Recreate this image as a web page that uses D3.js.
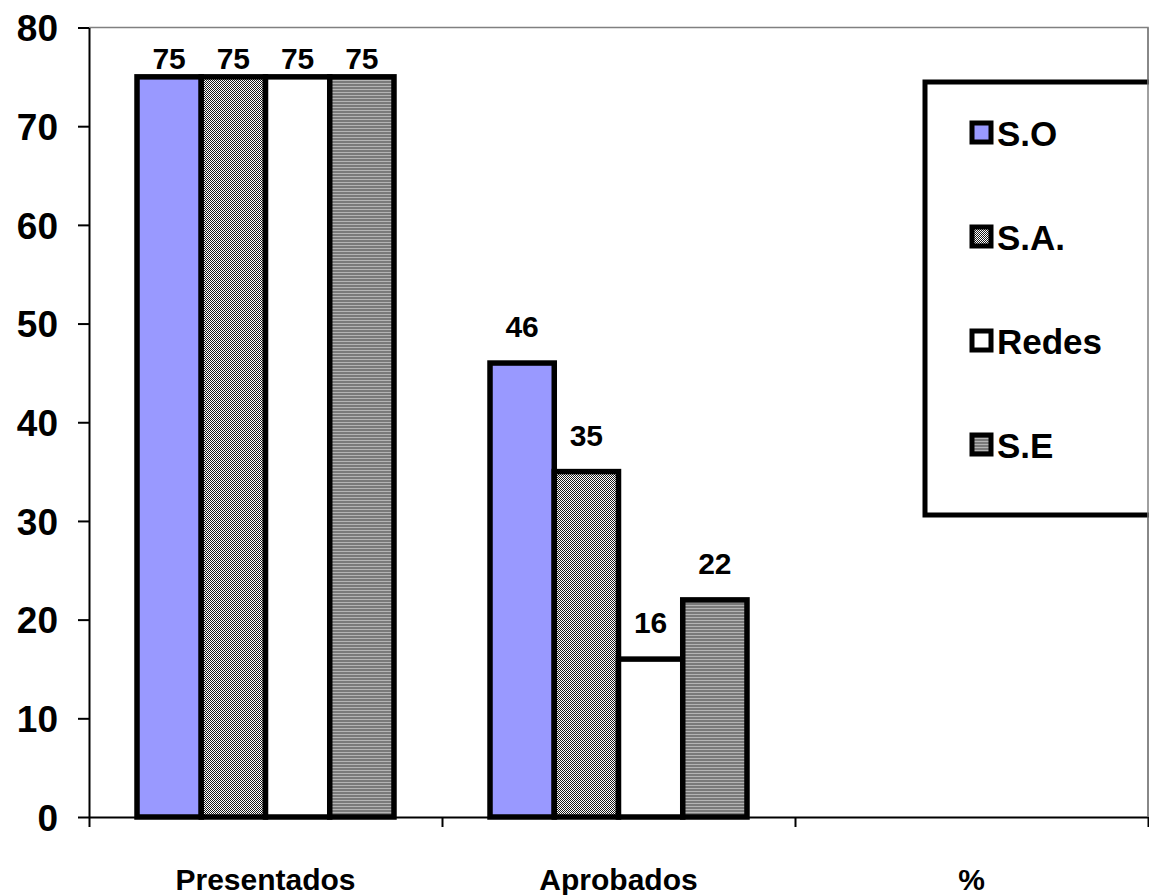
<!DOCTYPE html>
<html>
<head>
<meta charset="utf-8">
<script src="https://cdn.jsdelivr.net/npm/d3@7"></script>
<style>
  html, body { margin: 0; padding: 0; background: #fff; }
  svg { display: block; font-family: "Liberation Sans", Arial, sans-serif; font-weight: bold; }
</style>
</head>
<body>
<svg id="chart" width="1149" height="895"></svg>
<script>
// Categories along the x axis
const categories = ["Presentados", "Aprobados", "%"];
// Series (subjects)
const series = ["S.O", "S.A.", "Redes", "S.E"];
// Values per series, one per category (no values for "%")
const valuesSO    = [75, 46, null];
const valuesSA    = [75, 35, null];
const valuesRedes = [75, 16, null];
const valuesSE    = [75, 22, null];
// Y axis ticks
const yTicks = [0, 10, 20, 30, 40, 50, 60, 70, 80];

const seriesValues = [valuesSO, valuesSA, valuesRedes, valuesSE];
const fills = ["#9999FF", "url(#patSA)", "#FFFFFF", "url(#patSE)"];

const svg = d3.select("#chart");
const plotLeft = 89, plotRight = 1148, plotTop = 27.5, plotBottom = 817;

// Fill patterns: fine black/white checker and horizontal grey stripes
const defs = svg.append("defs");
const pSA = defs.append("pattern").attr("id", "patSA")
  .attr("patternUnits", "userSpaceOnUse").attr("width", 2).attr("height", 2);
pSA.append("rect").attr("width", 2).attr("height", 2).attr("fill", "#fff");
pSA.append("rect").attr("x", 0).attr("y", 0).attr("width", 1).attr("height", 1).attr("fill", "#1a1a1a");
pSA.append("rect").attr("x", 1).attr("y", 1).attr("width", 1).attr("height", 1).attr("fill", "#1a1a1a");
const pSE = defs.append("pattern").attr("id", "patSE")
  .attr("patternUnits", "userSpaceOnUse").attr("width", 4).attr("height", 3);
pSE.append("rect").attr("width", 4).attr("height", 3).attr("fill", "#7a7a7a");
pSE.append("rect").attr("y", 2).attr("width", 4).attr("height", 1).attr("fill", "#b4b4b4");

// Scales
const y = d3.scaleLinear().domain([0, 80]).range([plotBottom, plotTop]);
const x0 = d3.scaleBand().domain(categories).range([plotLeft, plotRight]).padding(0);
const step = x0.step();
const x1 = d3.scaleBand().domain(series).range([step * 0.136, step * 0.864]).padding(0);
const xEdges = d3.scaleLinear().domain([0, categories.length]).range([plotLeft, plotRight]);

// Plot area border (top and right)
svg.append("path")
  .attr("d", `M${plotLeft},${plotTop}H${plotRight}V${plotBottom}`)
  .attr("fill", "none").attr("stroke", "#808080").attr("stroke-width", 1.5);

// Y axis
const yAxis = svg.append("g").attr("transform", `translate(${plotLeft},0)`)
  .call(d3.axisLeft(y).tickValues(yTicks).tickSize(11).tickSizeOuter(0).tickPadding(20).tickFormat(d3.format("d")));
yAxis.select(".domain").attr("stroke", "#000").attr("stroke-width", 2);
yAxis.selectAll(".tick line").attr("stroke", "#000").attr("stroke-width", 2);
yAxis.selectAll(".tick text").attr("fill", "#000").attr("font-size", 37)
  .attr("font-weight", "bold").attr("font-family", "Liberation Sans, Arial, sans-serif")
  .attr("dy", "0.36em");

// X axis with ticks between categories
const xAxis = svg.append("g").attr("transform", `translate(0,${plotBottom})`)
  .call(d3.axisBottom(xEdges).tickValues(d3.range(categories.length + 1)).tickSize(10).tickSizeOuter(0).tickFormat(""));
xAxis.select(".domain").attr("stroke", "#000").attr("stroke-width", 2);
xAxis.selectAll(".tick line").attr("stroke", "#000").attr("stroke-width", 2);

// Category labels
svg.append("g").selectAll("text").data(categories).join("text")
  .attr("x", d => x0(d) + step / 2)
  .attr("y", 890)
  .attr("text-anchor", "middle")
  .attr("font-size", 30)
  .text(d => d);

// Bars
const barData = [];
series.forEach((s, si) => {
  categories.forEach((c, ci) => {
    const v = seriesValues[si][ci];
    if (v != null) barData.push({ s, si, c, v });
  });
});

svg.append("g").selectAll("rect").data(barData).join("rect")
  .attr("x", d => x0(d.c) + x1(d.s))
  .attr("y", d => y(d.v))
  .attr("width", x1.bandwidth())
  .attr("height", d => y(0) - y(d.v))
  .attr("fill", d => fills[d.si])
  .attr("stroke", "#000")
  .attr("stroke-width", 5.5);

// Value labels: 26px above the bar, kept clear of the plot's top edge
svg.append("g").selectAll("text").data(barData).join("text")
  .attr("x", d => x0(d.c) + x1(d.s) + x1.bandwidth() / 2)
  .attr("y", d => Math.max(y(d.v) - 26, y(80) + 41))
  .attr("text-anchor", "middle")
  .attr("font-size", 30)
  .text(d => d.v);

// Legend
const legend = svg.append("g");
legend.append("rect")
  .attr("x", 925).attr("y", 82).attr("width", 260).attr("height", 433)
  .attr("fill", "#fff").attr("stroke", "#000").attr("stroke-width", 5);
const legendY = d3.scalePoint().domain(series).range([133, 445]);
const items = legend.selectAll("g.item").data(series).join("g").attr("class", "item")
  .attr("transform", d => `translate(0,${legendY(d)})`);
items.append("rect")
  .attr("x", 972).attr("y", -10).attr("width", 19).attr("height", 19)
  .attr("fill", (d, i) => fills[i])
  .attr("stroke", "#000").attr("stroke-width", 5);
items.append("text")
  .attr("x", 997).attr("y", 12.5)
  .attr("font-size", 35)
  .text(d => d);

// Right border of the plot area shows over the legend box
svg.append("line")
  .attr("x1", plotRight).attr("x2", plotRight).attr("y1", plotTop).attr("y2", plotBottom)
  .attr("stroke", "#808080").attr("stroke-width", 1.5);
</script>
</body>
</html>
